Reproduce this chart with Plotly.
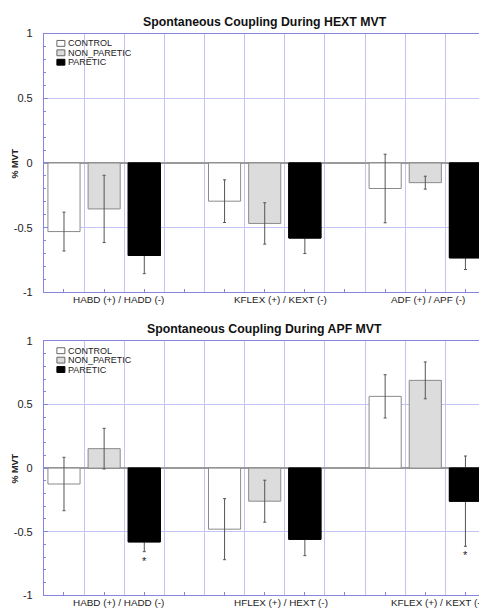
import plotly.graph_objects as go

# window size 487x616; the page body has an 8px margin, so the figure is 8px smaller
OFF = 8
W, H = 487 - OFF, 616 - OFF

groups_top = ["HABD (+) / HADD (-)", "KFLEX (+) / KEXT (-)", "ADF (+) / APF (-)"]
groups_bot = ["HABD (+) / HADD (-)", "HFLEX (+) / HEXT (-)", "KFLEX (+) / KEXT (-)"]
series = ["CONTROL", "NON_PARETIC", "PARETIC"]

# Top chart: Spontaneous Coupling During HEXT MVT
top_control = [-0.53, -0.295, -0.197]
top_control_err = [0.15, 0.165, 0.265]
top_nonparetic = [-0.355, -0.467, -0.152]
top_nonparetic_err = [0.26, 0.16, 0.05]
top_paretic = [-0.715, -0.58, -0.733]
top_paretic_err = [0.14, 0.12, 0.09]
top_sig = [False, False, False]

# Bottom chart: Spontaneous Coupling During APF MVT
bot_control = [-0.125, -0.48, 0.564]
bot_control_err = [0.21, 0.24, 0.17]
bot_nonparetic = [0.153, -0.26, 0.69]
bot_nonparetic_err = [0.16, 0.165, 0.145]
bot_paretic = [-0.58, -0.56, -0.26]
bot_paretic_err = [0.077, 0.128, 0.355]
bot_sig = [True, False, True]

titles = ["Spontaneous Coupling During HEXT MVT", "Spontaneous Coupling During APF MVT"]
y_ticks = [-1, -0.5, 0, 0.5, 1]
y_ticktext = ["-1", "-0.5", "0", "0.5", "1"]

fills = ["#ffffff", "#dcdcdc", "#000000"]
edges = ["#8a8a8a", "#8a8a8a", "#000000"]

FONT = "Liberation Sans, Arial, sans-serif"
GRID = "#c4c4f2"
AXIS = "#8686e0"

# plot areas in window pixels (top, bottom)
areas = [(28, 292), (341.5, 601)]
xl, xr = 44, 486.5
label_shift = [0.2, 0.2, 0.12]  # left start of each group label, in slot units


def py(p):
    return 1 - (p - OFF) / H


def px(p):
    return (p - OFF) / W


fig = go.Figure()

charts = [
    (groups_top, [top_control, top_nonparetic, top_paretic],
     [top_control_err, top_nonparetic_err, top_paretic_err], top_sig),
    (groups_bot, [bot_control, bot_nonparetic, bot_paretic],
     [bot_control_err, bot_nonparetic_err, bot_paretic_err], bot_sig),
]

annotations = []
shapes = []

for ci, (groups, vals, errs, sig) in enumerate(charts):
    xa = "x" if ci == 0 else "x2"
    ya = "y" if ci == 0 else "y2"
    for si in range(3):
        xs = [4 * g + si for g in range(len(groups))]
        fig.add_trace(go.Bar(
            x=xs, y=vals[si], width=0.8, name=series[si], showlegend=False,
            marker=dict(color=fills[si], line=dict(color=edges[si], width=1)),
            error_y=dict(type="data", array=errs[si], visible=True,
                         color="#555555", thickness=1, width=1.5),
            xaxis=xa, yaxis=ya,
        ))
        if si == 2:
            # solid black bar drawn again over its own error bar, hiding the part inside it
            fig.add_trace(go.Bar(
                x=xs, y=vals[si], width=0.8, name=series[si], showlegend=False,
                marker=dict(color=fills[si], line=dict(color=edges[si], width=1)),
                xaxis=xa, yaxis=ya, hoverinfo="skip",
            ))
    # significance markers
    for g in range(len(groups)):
        if sig[g]:
            annotations.append(dict(
                x=4 * g + 2, y=vals[2][g] - errs[2][g], xref=xa, yref=ya,
                text="*", showarrow=False, yanchor="top", yshift=-1,
                font=dict(family=FONT, size=11, color="#222")))
    top, bot = areas[ci]
    # category labels
    for g, name in enumerate(groups):
        annotations.append(dict(
            x=4 * g + label_shift[g], y=py(bot + 7.5), xref=xa, yref="paper",
            text=name, showarrow=False, xanchor="left", yanchor="middle",
            borderpad=0,
            font=dict(family=FONT, size=9.9, color="#222")))
    # title
    annotations.append(dict(
        x=px((xl + xr) / 2), y=py(top - 12), xref="paper", yref="paper",
        text="<b>" + titles[ci] + "</b>", showarrow=False,
        xanchor="center", yanchor="middle",
        font=dict(family=FONT, size=12.3, color="#111")))
    # y title
    annotations.append(dict(
        x=px(15.5), y=py((top + bot) / 2), xref="paper", yref="paper",
        text="<b>% MVT</b>", showarrow=False, textangle=-90,
        xanchor="center", yanchor="middle",
        font=dict(family=FONT, size=9, color="#222")))
    # legend
    for si in range(3):
        cy = top + 10 + si * 9.6
        shapes.append(dict(
            type="rect", xref="paper", yref="paper",
            x0=px(57), x1=px(65), y0=py(cy + 3), y1=py(cy - 3),
            fillcolor=fills[si], line=dict(color="#666666" if si < 2 else "#000", width=1)))
        annotations.append(dict(
            x=px(66.5), y=py(cy), xref="paper", yref="paper",
            text=series[si], showarrow=False, xanchor="left", yanchor="middle",
            font=dict(family=FONT, size=9, color="#222")))

xaxis_common = dict(
    range=[-0.5, 10.5], tickmode="array",
    tickvals=[i + 0.5 for i in range(-1, 11)], showticklabels=False,
    ticks="", showgrid=True, gridcolor=GRID, gridwidth=1,
    showline=True, linecolor=AXIS, linewidth=1, mirror=True, zeroline=False,
    minor=dict(tickmode="array", tickvals=list(range(11)), ticks="inside",
               ticklen=3, tickcolor=AXIS, showgrid=False),
    domain=[px(xl), px(xr)], fixedrange=True,
)
yaxis_common = dict(
    range=[-1, 1], tickmode="array", tickvals=y_ticks, ticktext=y_ticktext,
    ticks="inside", ticklen=4, tickcolor=AXIS,
    showgrid=True, gridcolor=GRID, gridwidth=1,
    showline=True, linecolor=AXIS, linewidth=1, mirror="ticks",
    zeroline=True, zerolinecolor="#9a9a9a", zerolinewidth=1.5,
    minor=dict(dtick=0.1, tick0=0, ticks="inside", ticklen=2.5,
               tickcolor=AXIS, showgrid=False),
    tickfont=dict(family=FONT, size=11, color="#222"),
    ticklabelstandoff=8, fixedrange=True,
)

fig.update_layout(
    width=W, height=H, margin=dict(l=0, r=0, t=0, b=0),
    paper_bgcolor="white", plot_bgcolor="white",
    barmode="overlay", showlegend=False,
    xaxis=dict(**xaxis_common, anchor="y"),
    yaxis=dict(**yaxis_common, anchor="x", domain=[py(areas[0][1]), py(areas[0][0])]),
    xaxis2=dict(**xaxis_common, anchor="y2"),
    yaxis2=dict(**yaxis_common, anchor="x2", domain=[py(areas[1][1]), py(areas[1][0])]),
    annotations=annotations, shapes=shapes,
)

fig.write_html("out.html")
